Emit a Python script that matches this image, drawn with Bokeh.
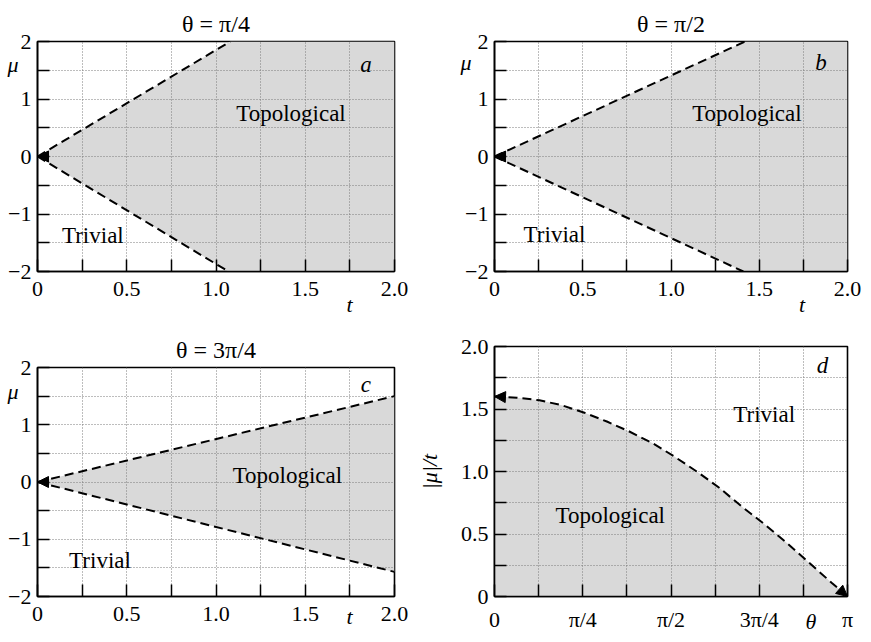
import math
from bokeh.plotting import figure
from bokeh.models import (FixedTicker, CustomJSTickFormatter, Label, Arrow,
                          NormalHead, Range1d, Title, LinearAxis)
from bokeh.layouts import column, row
from bokeh.embed import file_html
from bokeh.resources import INLINE

# ---------------- data ----------------
PI = math.pi
t_major = [0.0, 0.5, 1.0, 1.5, 2.0]
t_labels = ["0", "0.5", "1.0", "1.5", "2.0"]
t_minor = [0.25, 0.75, 1.25, 1.75]
mu_major = [-2.0, -1.0, 0.0, 1.0, 2.0]
mu_labels = ["−2", "−1", "0", "1", "2"]
mu_minor = [-1.5, -0.5, 0.5, 1.5]

theta_major = [0.0, PI / 4, PI / 2, 3 * PI / 4, PI]
theta_labels = ["0", "π/4", "π/2", "3π/4", "π"]
theta_minor = [PI / 8, 3 * PI / 8, 5 * PI / 8, 7 * PI / 8]
ratio_major = [0.0, 0.5, 1.0, 1.5, 2.0]
ratio_labels = ["0", "0.5", "1.0", "1.5", "2.0"]
ratio_minor = [0.25, 0.75, 1.25, 1.75]

titles = ["θ = π/4", "θ = π/2", "θ = 3π/4"]
panel_letters = ["a", "b", "c", "d"]

# where the axis names sit along their axes (data units)
mu_name_pos = [1.60, 1.63, 1.58]
t_name_pos = [1.748, 1.742, 1.748]
theta_name_pos = 2.816

# phase boundaries (t, mu)
a_upper_t = [0.0, 1.08]
a_upper_mu = [0.0, 2.0]
a_lower_t = [0.0, 1.07]
a_lower_mu = [0.0, -2.0]

b_upper_t = [0.0, 1.42]
b_upper_mu = [0.0, 2.0]
b_lower_t = [0.0, 1.41]
b_lower_mu = [0.0, -2.0]

c_upper_t = [0.0, 2.0]
c_upper_mu = [0.0, 1.50]
c_lower_t = [0.0, 2.0]
c_lower_mu = [0.0, -1.57]

# panel d: critical |mu|/t versus theta
d_theta = [0.0, 0.2, 0.4, 0.6, 0.8, 1.0, 1.2, 1.4, 1.6, 1.8, 2.0, 2.2,
           2.4, 2.6, 2.8, 3.0, PI]
d_ratio = [1.60, 1.59, 1.57, 1.53, 1.47, 1.40, 1.32, 1.23, 1.12, 1.00,
           0.87, 0.72, 0.58, 0.43, 0.27, 0.11, 0.0]

# ---------------- style ----------------
FONT = "Liberation Serif"
FILL = "#d9d9d9"
GRID = "#7a7a7a"
TICK_FS = "22px"
TEXT_FS = "23px"


def fmt(vals, labs):
    return CustomJSTickFormatter(args=dict(vals=vals, labs=labs), code="""
        for (let i = 0; i < vals.length; i++) {
            if (Math.abs(tick - vals[i]) < 1e-6) { return labs[i]; }
        }
        return "";
    """)


def make_fig(width, height, bl, br, bt, bb, xr, yr,
             xmaj, xlab, xmin, ymaj, ylab, ymin):
    p = figure(width=width, height=height, x_range=Range1d(*xr),
               y_range=Range1d(*yr), output_backend="svg",
               toolbar_location=None, min_border_left=bl,
               min_border_right=br, min_border_top=bt, min_border_bottom=bb)
    p.outline_line_color = "black"
    p.outline_line_width = 1.6
    p.outline_line_alpha = 1.0
    p.background_fill_color = "white"
    p.border_fill_color = "white"
    xt = FixedTicker(ticks=xmaj, minor_ticks=xmin)
    yt = FixedTicker(ticks=ymaj, minor_ticks=ymin)
    for ax, tk, mj, lb in ((p.xaxis[0], xt, xmaj, xlab),
                           (p.yaxis[0], yt, ymaj, ylab)):
        ax.ticker = tk
        ax.formatter = fmt(mj, lb)
        ax.axis_line_color = "black"
        ax.axis_line_width = 1.6
        ax.major_tick_in = 12
        ax.major_tick_out = 0
        ax.minor_tick_in = 12
        ax.minor_tick_out = 0
        ax.major_tick_line_width = 1.5
        ax.minor_tick_line_width = 1.5
        ax.major_tick_line_color = "black"
        ax.minor_tick_line_color = "black"
        ax.major_label_text_font = FONT
        ax.major_label_text_font_size = TICK_FS
        ax.major_label_text_color = "black"
    p.xaxis.major_label_standoff = 10
    p.yaxis.major_label_standoff = 6
    for g, tk in ((p.xgrid[0], xt), (p.ygrid[0], yt)):
        g.ticker = tk
        g.grid_line_color = GRID
        g.grid_line_dash = "1 2"
        g.grid_line_width = 1
        g.minor_grid_line_color = GRID
        g.minor_grid_line_dash = "1 2"
        g.minor_grid_line_width = 1
    return p


def name_axis(p, side, pos, name, standoff):
    """An extra axis without line or ticks that only carries the axis name."""
    ax = LinearAxis(ticker=FixedTicker(ticks=[pos], minor_ticks=[]),
                    formatter=fmt([pos], [name]),
                    axis_line_color=None, major_tick_line_color=None,
                    minor_tick_line_color=None, major_tick_in=0,
                    major_tick_out=0, minor_tick_in=0, minor_tick_out=0,
                    major_label_standoff=standoff,
                    major_label_text_font=FONT,
                    major_label_text_font_size="22px",
                    major_label_text_font_style="italic",
                    major_label_text_color="black")
    p.add_layout(ax, side)


def txt(p, x, y, text, style="normal", size=TEXT_FS):
    p.add_layout(Label(x=x, y=y, text=text, text_font=FONT,
                       text_font_size=size, text_font_style=style,
                       text_align="center", text_baseline="middle",
                       text_color="black"))


def head():
    return NormalHead(size=11, fill_color="black", line_color="black",
                      line_width=1)


def add_title(p, title):
    p.add_layout(Title(text=title, align="center", text_font=FONT,
                       text_font_size="24px", text_font_style="normal",
                       text_color="black", standoff=9), "above")


def wedge_panel(p, ut, um, lt, lm, title, letter, topo, triv,
                mu_pos, t_pos, mu_off, t_off):
    tmax = p.x_range.end
    xs = ut + [tmax, tmax] + lt[::-1]
    ys = um + [um[-1], lm[-1]] + lm[::-1]
    r = p.patch(xs, ys, fill_color=FILL, line_color=None)
    r.level = "image"
    p.line(ut, um, line_color="black", line_width=2, line_dash="9 5")
    p.line(lt, lm, line_color="black", line_width=2, line_dash="9 5")
    p.add_layout(Arrow(end=head(), x_start=ut[0] + 0.08, y_start=um[0],
                       x_end=ut[0], y_end=um[0], line_alpha=0,
                       line_width=0))
    add_title(p, title)
    name_axis(p, "left", mu_pos, "μ", mu_off)
    name_axis(p, "below", t_pos, "t", t_off)
    txt(p, letter[1], letter[2], letter[0], style="italic")
    txt(p, topo[0], topo[1], "Topological")
    txt(p, triv[0], triv[1], "Trivial")


# ---------------- panels ----------------
pa = make_fig(413, 328, 37, 19, 41, 57, (0, 2), (-2, 2),
              t_major, t_labels, t_minor, mu_major, mu_labels, mu_minor)
wedge_panel(pa, a_upper_t, a_upper_mu, a_lower_t, a_lower_mu, titles[0],
            (panel_letters[0], 1.84, 1.60), (1.42, 0.75), (0.31, -1.37),
            mu_name_pos[0], t_name_pos[0], -13, -7)

pb = make_fig(454, 328, 77, 20, 41, 57, (0, 2), (-2, 2),
              t_major, t_labels, t_minor, mu_major, mu_labels, mu_minor)
wedge_panel(pb, b_upper_t, b_upper_mu, b_lower_t, b_lower_mu, titles[1],
            (panel_letters[1], 1.85, 1.63), (1.43, 0.75), (0.34, -1.36),
            mu_name_pos[1], t_name_pos[1], -9, -7)

pc = make_fig(413, 310, 37, 19, 39, 42, (0, 2), (-2, 2),
              t_major, t_labels, t_minor, mu_major, mu_labels, mu_minor)
wedge_panel(pc, c_upper_t, c_upper_mu, c_lower_t, c_lower_mu, titles[2],
            (panel_letters[2], 1.84, 1.70), (1.40, 0.12), (0.35, -1.37),
            mu_name_pos[2], t_name_pos[2], -13, -20)

pd = make_fig(454, 310, 77, 20, 18, 42, (0, PI), (0, 2),
              theta_major, theta_labels, theta_minor,
              ratio_major, ratio_labels, ratio_minor)
rd = pd.patch(d_theta + [d_theta[0]], d_ratio + [0.0], fill_color=FILL,
              line_color=None)
rd.level = "image"
pd.line(d_theta, d_ratio, line_color="black", line_width=2, line_dash="9 5")
pd.add_layout(Arrow(end=head(), x_start=d_theta[1], y_start=d_ratio[1],
                    x_end=d_theta[0], y_end=d_ratio[0], line_alpha=0,
                    line_width=0))
pd.add_layout(Arrow(end=head(), x_start=d_theta[-2], y_start=d_ratio[-2],
                    x_end=d_theta[-1], y_end=d_ratio[-1], line_alpha=0,
                    line_width=0))
pd.yaxis.axis_label = "|μ|/t"
pd.yaxis.axis_label_text_font = FONT
pd.yaxis.axis_label_text_font_size = "22px"
pd.yaxis.axis_label_text_font_style = "italic"
pd.yaxis.axis_label_text_color = "black"
pd.yaxis.axis_label_standoff = 16
name_axis(pd, "below", theta_name_pos, "θ", -26)
txt(pd, 2.92, 1.85, panel_letters[3], style="italic")
txt(pd, 1.03, 0.65, "Topological")
txt(pd, 2.40, 1.46, "Trivial")

layout = row(column(pa, pc), column(pb, pd))

with open("out.html", "w") as f:
    f.write(file_html(layout, INLINE))
